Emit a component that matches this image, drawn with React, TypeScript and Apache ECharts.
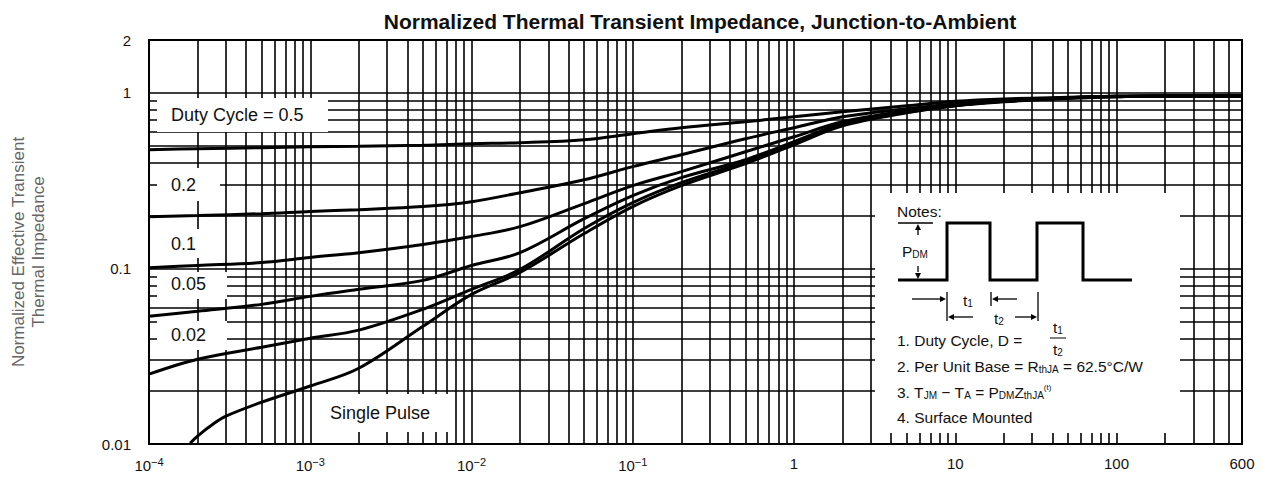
import React, { useEffect, useRef } from "react";
import * as echarts from "echarts";

// ---- data ----
const xPoints = [1e-4, 2e-4, 5e-4, 1e-3, 2e-3, 5e-3, 1e-2, 2e-2, 5e-2, 0.1, 0.2, 0.5, 1, 2, 5, 10, 20, 50, 100, 200, 600];

const duty05 = [0.474, 0.481, 0.487, 0.493, 0.497, 0.503, 0.513, 0.52, 0.541, 0.585, 0.633, 0.684, 0.731, 0.78, 0.844, 0.895, 0.924, 0.943, 0.955, 0.96, 0.96];
const duty02 = [0.197, 0.2, 0.205, 0.211, 0.216, 0.225, 0.24, 0.27, 0.32, 0.38, 0.444, 0.548, 0.633, 0.731, 0.811, 0.866, 0.906, 0.937, 0.955, 0.96, 0.96];
const duty01 = [0.101, 0.104, 0.108, 0.1155, 0.123, 0.137, 0.152, 0.173, 0.234, 0.296, 0.356, 0.462, 0.562, 0.684, 0.79, 0.855, 0.901, 0.937, 0.955, 0.96, 0.96];
const duty005 = [0.0534, 0.057, 0.0624, 0.0693, 0.076, 0.0855, 0.104, 0.123, 0.192, 0.26, 0.329, 0.416, 0.527, 0.667, 0.78, 0.849, 0.895, 0.937, 0.955, 0.96, 0.96];
const duty002 = [0.025, 0.0304, 0.0356, 0.04, 0.0445, 0.0585, 0.076, 0.0987, 0.1687, 0.237, 0.308, 0.4055, 0.52, 0.658, 0.775, 0.844, 0.895, 0.931, 0.949, 0.96, 0.96];

const singleX = [1.8e-4, 2e-4, 2.5e-4, 3e-4, 5e-4, 1e-3, 2e-3, 5e-3, 1e-2, 2e-2, 5e-2, 0.1, 0.2, 0.5, 1, 2, 5, 10, 20, 50, 100, 200, 600];
const singleY = [0.0101, 0.0111, 0.013, 0.0144, 0.0173, 0.0214, 0.027, 0.0468, 0.0711, 0.0949, 0.158, 0.225, 0.296, 0.395, 0.506, 0.649, 0.77, 0.844, 0.889, 0.931, 0.949, 0.96, 0.96];

// grid line positions (log decades × multipliers)
const xDecades = [1e-4, 1e-3, 1e-2, 1e-1, 1, 10, 100];
const yDecades = [0.01, 0.1, 1];
const multipliers = [1, 2, 3, 4, 5, 6, 7, 8, 9];
const xMin = 1e-4;
const xMax = 600;
const yMin = 0.01;
const yMax = 2;

const FONT = "'Liberation Sans', Arial, Helvetica, sans-serif";

function pairs(xs: number[], ys: number[]) {
  return xs.map((x, i) => [x, ys[i]]);
}

const supMap: Record<string, string> = { "-1": "−1", "-2": "−2", "-3": "−3", "-4": "−4" };

export default function App() {
  const ref = useRef<HTMLDivElement>(null);

  useEffect(() => {
    if (!ref.current) return;
    const chart = echarts.init(ref.current, undefined, { renderer: "svg" });

    const xGrid: number[] = [];
    xDecades.forEach((d) =>
      multipliers.forEach((m) => {
        const v = +(d * m).toPrecision(6);
        if (v > xMin && v < xMax) xGrid.push(v);
      })
    );
    const yGrid: number[] = [];
    yDecades.forEach((d) =>
      multipliers.forEach((m) => {
        const v = +(d * m).toPrecision(6);
        if (v > yMin && v <= 1) yGrid.push(v);
      })
    );

    const curveStyle = { color: "#000", width: 3 };
    const mkCurve = (name: string, data: number[][]) => ({
      name,
      type: "line",
      data,
      smooth: 0.35,
      showSymbol: false,
      symbol: "none",
      z: 4,
      lineStyle: curveStyle,
      silent: true,
    });

    const NOTE = 15.5;
    const SUB = 10;
    const subRich = {
      sub: { fontSize: SUB, fontFamily: FONT, verticalAlign: "bottom", padding: [7, 0, 0, 0], color: "#111" },
      sup: { fontSize: 8, fontFamily: FONT, verticalAlign: "top", padding: [0, 0, 7, 0], color: "#111" },
      n: { fontSize: NOTE, fontFamily: FONT, color: "#111" },
    };

    const arrowHead = (x: number, y: number, dir: "up" | "down" | "left" | "right") => {
      const s = 6;
      const w = 3;
      let pts: number[][] = [];
      if (dir === "up") pts = [[x, y], [x - w, y + s], [x + w, y + s]];
      if (dir === "down") pts = [[x, y], [x - w, y - s], [x + w, y - s]];
      if (dir === "left") pts = [[x, y], [x + s, y - w], [x + s, y + w]];
      if (dir === "right") pts = [[x, y], [x - s, y - w], [x - s, y + w]];
      return { type: "polygon", z: 5, shape: { points: pts }, style: { fill: "#000" } };
    };
    const seg = (x1: number, y1: number, x2: number, y2: number, w = 1.3) => ({
      type: "line",
      z: 5,
      shape: { x1, y1, x2, y2 },
      style: { stroke: "#000", lineWidth: w },
    });
    const txt = (x: number, y: number, text: string, fontSize: number, extra: any = {}) => ({
      type: "text",
      z: 6,
      style: {
        x,
        y,
        text,
        fontSize,
        fontFamily: FONT,
        fill: "#111",
        textAlign: "left",
        align: "left",
        textVerticalAlign: "middle",
        verticalAlign: "middle",
        ...extra,
      },
    });
    const whiteRect = (x: number, y: number, width: number, height: number) => ({
      type: "rect",
      z: 3,
      shape: { x, y, width, height },
      style: { fill: "#fff" },
    });

    const LBL = 18;

    const graphics: any[] = [
      // curve labels with white backgrounds
      whiteRect(157, 98, 171, 34),
      txt(171, 115, "Duty Cycle = 0.5", LBL),
      whiteRect(157, 168, 63, 33),
      txt(171, 185, "0.2", LBL),
      whiteRect(157, 229, 63, 29),
      txt(171, 244, "0.1", LBL),
      whiteRect(157, 272, 70, 27),
      txt(171, 284, "0.05", LBL),
      whiteRect(157, 321, 70, 29),
      txt(171, 335, "0.02", LBL),
      whiteRect(318, 394, 130, 38),
      txt(330, 413, "Single Pulse", LBL),

      // notes box
      whiteRect(875, 193, 305, 240),
      txt(897, 211, "Notes:", NOTE),
      {
        type: "polyline",
        z: 5,
        shape: {
          points: [
            [898, 280], [947, 280], [947, 223], [990, 223], [990, 280],
            [1037, 280], [1037, 223], [1083, 223], [1083, 280], [1132, 280],
          ],
        },
        style: { stroke: "#000", lineWidth: 3, fill: null },
      },
      seg(898, 223, 933, 223, 1.5),
      seg(918, 229, 918, 235),
      arrowHead(918, 224, "up"),
      seg(918, 266, 918, 272),
      arrowHead(918, 279, "down"),
      txt(902, 251, "{n|P}{sub|DM}", NOTE, { rich: subRich }),
      // t1 / t2 dimension arrows
      seg(912, 299, 940, 299),
      arrowHead(946, 299, "right"),
      seg(947, 292, 947, 321),
      txt(963, 300, "{n|t}{sub|1}", NOTE, { rich: subRich }),
      seg(954, 317, 973, 317),
      arrowHead(948, 317, "left"),
      seg(991, 292, 991, 306),
      seg(998, 299, 1017, 299),
      arrowHead(992, 299, "left"),
      txt(994, 318, "{n|t}{sub|2}", NOTE, { rich: subRich }),
      seg(1015, 317, 1031, 317),
      arrowHead(1037, 317, "right"),
      seg(1038, 292, 1038, 321),
      // numbered notes
      txt(897, 340, "1. Duty Cycle, D = ", NOTE),
      txt(1058, 327, "{n|t}{sub|1}", NOTE, { rich: subRich, textAlign: "center", align: "center" }),
      seg(1050, 338, 1066, 338, 1),
      txt(1058, 349, "{n|t}{sub|2}", NOTE, { rich: subRich, textAlign: "center", align: "center" }),
      txt(897, 366, "{n|2. Per Unit Base = R}{sub|thJA}{n| = 62.5°C/W}", NOTE, { rich: subRich }),
      txt(897, 392, "{n|3. T}{sub|JM}{n| − T}{sub|A}{n| = P}{sub|DM}{n|Z}{sub|thJA}{sup|(t)}", NOTE, { rich: subRich }),
      txt(897, 417, "4. Surface Mounted", NOTE),

      // y axis name
      {
        type: "text",
        z: 6,
        x: 28,
        y: 252,
        rotation: Math.PI / 2,
        style: {
          text: "Normalized Effective Transient\nThermal Impedance",
          fontSize: 17,
          fontFamily: FONT,
          fill: "#666",
          lineHeight: 20,
          textAlign: "center",
          align: "center",
          textVerticalAlign: "middle",
          verticalAlign: "middle",
        },
      },
    ];

    const option: any = {
      animation: false,
      backgroundColor: "#fff",
      title: {
        text: "Normalized Thermal Transient Impedance, Junction-to-Ambient",
        left: 695,
        textAlign: "center",
        top: 6,
        textStyle: { fontFamily: FONT, fontSize: 21, fontWeight: "bold", color: "#111" },
      },
      grid: {
        left: 149,
        right: 20,
        top: 40,
        bottom: 35,
        show: true,
        borderColor: "#000",
        borderWidth: 2,
        backgroundColor: "#fff",
      },
      xAxis: {
        type: "log",
        logBase: 10,
        min: xMin,
        max: xMax,
        axisLine: { show: false },
        axisTick: { show: false },
        splitLine: { show: false },
        axisLabel: {
          margin: 12,
          fontFamily: FONT,
          fontSize: 15,
          color: "#111",
          formatter: (v: number) => {
            if (v >= 1) return String(Math.round(v));
            const e = Math.round(Math.log10(v));
            return `10{sup|${supMap[String(e)] ?? e}}`;
          },
          rich: {
            sup: { fontSize: 11, fontFamily: FONT, color: "#111", verticalAlign: "top", padding: [0, 0, 8, 0] },
          },
        },
      },
      yAxis: {
        type: "log",
        logBase: 10,
        min: yMin,
        max: yMax,
        axisLine: { show: false },
        axisTick: { show: false },
        splitLine: { show: false },
        axisLabel: {
          margin: 18,
          fontFamily: FONT,
          fontSize: 15,
          color: "#111",
          formatter: (v: number) => (v >= 1 ? String(Math.round(v)) : String(+v.toPrecision(3))),
        },
      },
      series: [
        {
          type: "line",
          data: [],
          silent: true,
          markLine: {
            z: 1,
            silent: true,
            precision: 10,
            symbol: ["none", "none"],
            label: { show: false },
            lineStyle: { color: "#000", width: 1.6, type: "solid" },
            emphasis: { disabled: true },
            data: [...xGrid.map((v) => ({ xAxis: v })), ...yGrid.map((v) => ({ yAxis: v }))],
          },
        },
        mkCurve("D=0.5", pairs(xPoints, duty05)),
        mkCurve("D=0.2", pairs(xPoints, duty02)),
        mkCurve("D=0.1", pairs(xPoints, duty01)),
        mkCurve("D=0.05", pairs(xPoints, duty005)),
        mkCurve("D=0.02", pairs(xPoints, duty002)),
        mkCurve("Single Pulse", pairs(singleX, singleY)),
      ],
      graphic: { elements: graphics },
    };

    chart.setOption(option);
    return () => chart.dispose();
  }, []);

  return (
    <div
      ref={ref}
      style={{ position: "fixed", left: 0, top: 0, width: 1262, height: 479, background: "#fff" }}
    />
  );
}
